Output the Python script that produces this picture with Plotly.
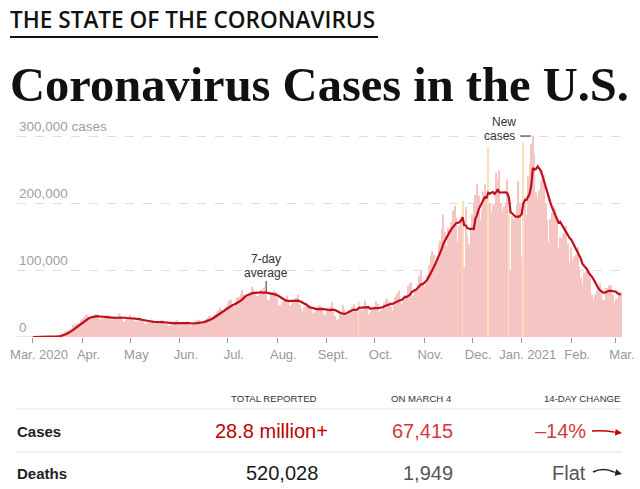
import pandas as pd
import plotly.graph_objects as go

# ---------------- data ----------------
start_date = "2020-03-01"
end_date = "2021-03-04"

# daily new cases (thousands), one row per week starting on Sunday
daily_cases_k = [
    0.02, 0.02, 0.03, 0.04, 0.06, 0.09, 0.11,        # Mar 1
    0.15, 0.2, 0.3, 0.45, 0.4, 0.6, 0.7,             # Mar 8
    0.9, 1.2, 1.8, 2.6, 4.7, 5.6, 7.0,               # Mar 15
    9.0, 10.2, 10.5, 12.2, 17.6, 18.4, 19.8,         # Mar 22
    20.0, 21.5, 24.9, 27.0, 30.0, 33.0, 33.3,        # Mar 29
    26.0, 29.0, 30.6, 32.0, 33.5, 33.5, 30.6,        # Apr 5
    26.5, 27.5, 28.0, 29.7, 31.0, 33.0, 28.6,        # Apr 12
    26.5, 26.0, 26.0, 30.0, 31.5, 35.0, 32.0,        # Apr 19
    25.5, 22.5, 24.5, 27.5, 31.0, 33.6, 28.5,        # Apr 26
    25.0, 23.0, 23.5, 25.5, 28.0, 26.5, 25.2,        # May 3
    19.5, 19.2, 22.0, 20.8, 26.0, 25.0, 24.0,        # May 10
    19.0, 20.5, 19.8, 22.0, 25.5, 23.5, 21.5,        # May 17
    19.5, 16.5, 18.5, 19.5, 22.5, 24.0, 25.0,        # May 24
    19.5, 20.0, 19.0, 20.5, 21.5, 23.0, 22.0,        # May 31
    18.0, 17.0, 18.5, 21.0, 23.0, 25.5, 25.0,        # Jun 7
    19.0, 19.5, 23.0, 25.5, 28.5, 31.5, 32.0,        # Jun 14
    27.0, 31.0, 34.5, 37.0, 40.0, 44.5, 41.5,        # Jun 21
    39.5, 42.0, 46.0, 50.5, 55.0, 55.5, 46.0,        # Jun 28
    44.0, 48.0, 59.0, 60.0, 64.0, 70.0, 63.5,        # Jul 5
    59.0, 60.5, 64.0, 67.0, 75.0, 71.5, 63.5,        # Jul 12
    61.0, 61.5, 63.5, 71.0, 70.5, 74.0, 65.0,        # Jul 19
    55.0, 55.0, 63.5, 67.5, 69.5, 67.0, 58.0,        # Jul 26
    47.0, 47.0, 52.5, 54.0, 57.5, 62.0, 55.0,        # Aug 2
    47.0, 49.0, 54.5, 52.5, 58.5, 63.0, 48.5,        # Aug 9
    42.0, 38.0, 44.0, 47.5, 44.0, 48.0, 44.5,        # Aug 16
    35.5, 36.5, 38.0, 45.0, 47.0, 47.5, 44.0,        # Aug 23
    34.0, 33.0, 38.5, 40.0, 44.5, 52.0, 43.0,        # Aug 30
    31.0, 25.0, 26.5, 34.5, 35.5, 47.5, 41.0,        # Sep 6
    35.0, 34.0, 40.0, 39.5, 45.0, 49.0, 42.5,        # Sep 13
    36.0, 53.0, 41.0, 40.0, 45.0, 54.0, 46.0,        # Sep 20
    33.5, 37.0, 41.5, 40.5, 46.5, 53.5, 49.5,        # Sep 27
    36.5, 40.0, 44.0, 51.0, 56.0, 57.0, 53.0,        # Oct 4
    45.0, 39.5, 52.0, 60.0, 65.0, 69.0, 55.5,        # Oct 11
    48.0, 59.0, 62.5, 60.0, 76.0, 80.0, 81.0,        # Oct 18
    62.0, 67.0, 71.5, 79.0, 91.0, 99.0, 82.0,        # Oct 25
    74.5, 85.0, 92.0, 108.0, 121.0, 128.0, 123.0,    # Nov 1
    110.0, 120.0, 137.0, 144.0, 161.0, 183.0, 157.0, # Nov 8
    136.0, 163.0, 157.0, 171.0, 189.0, 196.0, 178.0, # Nov 15
    142.0, 166.0, 177.0, 203.0, 105.0, 194.0, 150.0, # Nov 22
    138.0, 160.0, 183.0, 200.0, 212.0, 228.0, 211.0, # Nov 29
    175.0, 190.0, 217.0, 228.0, 205.0, 282.0, 200.0, # Dec 6
    186.0, 197.0, 198.0, 245.0, 235.0, 249.0, 200.0, # Dec 13
    188.0, 195.0, 199.0, 235.0, 190.0, 100.0, 180.0, # Dec 20
    175.0, 180.0, 198.0, 233.0, 200.0, 120.0, 290.0, # Dec 27
    209.0, 182.0, 240.0, 258.0, 288.0, 300.0, 272.0, # Jan 3
    216.0, 208.0, 219.0, 233.0, 235.0, 242.0, 200.0, # Jan 10
    175.0, 141.0, 176.0, 186.0, 195.0, 191.0, 174.0, # Jan 17
    133.0, 149.0, 148.0, 154.0, 166.0, 166.0, 140.0, # Jan 24
    111.0, 134.0, 115.0, 120.0, 123.0, 134.0, 104.0, # Jan 31
    89.0, 80.0, 96.0, 98.0, 104.0, 99.0, 88.0,       # Feb 7
    63.0, 55.0, 63.0, 69.0, 71.0, 80.0, 70.0,        # Feb 14
    56.0, 55.0, 73.0, 73.0, 77.0, 78.0, 63.0,        # Feb 21
    52.0, 57.0, 57.0, 66.0, 67.415,                  # Feb 28
]

# days drawn in the lighter (reporting anomaly) colour
anomaly_days = ["2020-09-21", "2020-11-25", "2020-12-11", "2020-12-24", "2021-01-02"]

month_ticks = ["2020-03-01", "2020-04-01", "2020-05-01", "2020-06-01", "2020-07-01",
               "2020-08-01", "2020-09-01", "2020-10-01", "2020-11-01", "2020-12-01",
               "2021-01-01", "2021-02-01", "2021-03-01"]
month_labels = ["Mar. 2020", "Apr.", "May", "Jun.", "Jul.", "Aug.", "Sept.", "Oct.",
                "Nov.", "Dec.", "Jan. 2021", "Feb.", "Mar."]

y_ticks = [0, 100000, 200000, 300000]
y_labels = ["0", "100,000", "200,000", "300,000 cases"]

table_columns = ["TOTAL REPORTED", "ON MARCH 4", "14-DAY CHANGE"]
table_rows = ["Cases", "Deaths"]
cases_values = ["28.8 million+", "67,415", "–14%"]
deaths_values = ["520,028", "1,949", "Flat"]

# ---------------- build ----------------
dates = pd.date_range(start_date, end_date, freq="D")
cases = pd.Series([v * 1000 for v in daily_cases_k], index=dates)
avg7 = cases.rolling(7, min_periods=1).mean()

PINK = "#f4c5c3"
YELLOW = "#f9e0bb"
flag = set(pd.to_datetime(anomaly_days))
bar_colors = [YELLOW if d in flag else PINK for d in dates]

W, H = 640, 489
L, R, T, B = 17, 18, 130, 152
PW, PH = W - L - R, H - T - B


def X(px):
    return (px - L) / PW


def Y(py):
    return (H - B - py) / PH


SANS = "Liberation Sans, Arial, sans-serif"
SERIF = "Liberation Serif, Times New Roman, serif"

fig = go.Figure()
fig.add_trace(go.Bar(x=dates, y=cases.values, marker=dict(color=bar_colors, line=dict(width=0)),
                     hoverinfo="skip"))
fig.add_trace(go.Scatter(x=dates, y=avg7.values, mode="lines",
                         line=dict(color="#be0f1c", width=2.2), hoverinfo="skip"))

annotations = []
shapes = []


def txt(text, px, py, size, color, anchor="left", family=SANS, weight="normal"):
    annotations.append(dict(text=text, x=X(px), y=Y(py), xref="paper", yref="paper",
                            xanchor=anchor, yanchor="middle", showarrow=False,
                            font=dict(family=family, size=size, color=color, weight=weight)))


# header
txt("THE STATE OF THE CORONAVIRUS", 8, 19.5, 22.6, "#111", family="Open Sans, " + SANS, weight=600)
shapes.append(dict(type="line", xref="paper", yref="paper", x0=X(10), x1=X(378),
                   y0=Y(37), y1=Y(37), line=dict(color="#111", width=2)))
txt("Coronavirus Cases in the U.S.", 8, 85, 48.5, "#111", family=SERIF, weight="bold")

# y-axis labels above the gridlines
for v, lab in zip(y_ticks, y_labels):
    annotations.append(dict(text=lab, x=0, y=v, xref="paper", yref="y", xanchor="left",
                            yanchor="middle", yshift=10, showarrow=False,
                            font=dict(family=SANS, size=13.5, color="#a0a0a0")))

# baseline
shapes.append(dict(type="line", xref="paper", yref="y", x0=0, x1=1, y0=0, y1=0,
                   line=dict(color="#cfcfcf", width=1), layer="below"))

# "7-day average" label
pin_day = pd.Timestamp("2020-07-25")
annotations.append(dict(text="7-day", x=pin_day, y=Y(258.5), xref="x", yref="paper",
                        xanchor="center", yanchor="middle", showarrow=False,
                        font=dict(family=SANS, size=12, color="#333")))
annotations.append(dict(text="average", x=pin_day, y=Y(273), xref="x", yref="paper",
                        xanchor="center", yanchor="middle", showarrow=False,
                        font=dict(family=SANS, size=12, color="#333")))
shapes.append(dict(type="line", xref="x", yref="paper", x0=pin_day, x1=pin_day,
                   y0=Y(281), y1=Y(292), line=dict(color="#333", width=1)))

# "New cases" label
txt("New", 518, 122, 12, "#333", anchor="right")
txt("cases", 517, 136, 12, "#333", anchor="right")
shapes.append(dict(type="line", xref="paper", yref="paper", x0=X(520), x1=X(531),
                   y0=Y(136), y1=Y(136), line=dict(color="#333", width=1)))

# table
col_right = [319, 454, 622]
for lab, xr in zip(table_columns, col_right):
    txt(lab, xr, 398, 9.6, "#333", anchor="right")
for yline in (409, 452):
    shapes.append(dict(type="line", xref="paper", yref="paper", x0=X(17), x1=X(622),
                       y0=Y(yline), y1=Y(yline), line=dict(color="#e3e3e3", width=1)))
txt(table_rows[0], 15, 431, 15, "#222", weight="bold")
txt(table_rows[1], 15, 473, 15, "#222", weight="bold")

txt(cases_values[0], 330, 431, 20, "#c10000", anchor="right")
txt(cases_values[1], 455, 431, 20, "#d2393b", anchor="right")
txt(cases_values[2], 588, 431, 20, "#d2393b", anchor="right")
txt(deaths_values[0], 320, 473, 20, "#1a1a1a", anchor="right")
txt(deaths_values[1], 455, 473, 20, "#555", anchor="right")
txt(deaths_values[2], 588, 473, 20, "#555", anchor="right")

# trend arrows
shapes.append(dict(type="path", xref="paper", yref="paper",
                   path=f"M {X(592)},{Y(431)} Q {X(603)},{Y(430)} {X(614)},{Y(432)}",
                   line=dict(color="#c10000", width=1.5)))
annotations.append(dict(text="", x=X(622), y=Y(433), xref="paper", yref="paper",
                        ax=-9, ay=-1, showarrow=True, arrowhead=2, arrowsize=0.9,
                        arrowwidth=1.5, arrowcolor="#c10000"))
shapes.append(dict(type="path", xref="paper", yref="paper",
                   path=f"M {X(593)},{Y(472)} Q {X(603)},{Y(467)} {X(614)},{Y(472)}",
                   line=dict(color="#222", width=1.5)))
annotations.append(dict(text="", x=X(622), y=Y(474), xref="paper", yref="paper",
                        ax=-9, ay=-2, showarrow=True, arrowhead=2, arrowsize=0.9,
                        arrowwidth=1.5, arrowcolor="#222"))

fig.update_layout(
    width=W, height=H,
    margin=dict(l=L, r=R, t=T, b=B, autoexpand=False),
    paper_bgcolor="white", plot_bgcolor="white",
    showlegend=False, bargap=0.28,
    annotations=annotations, shapes=shapes,
    xaxis=dict(type="date", range=["2020-02-20", "2021-03-04 19:00"],
               tickvals=month_ticks, ticktext=month_labels, automargin=False,
               ticks="outside", ticklen=5, tickcolor="#9a9a9a", tickwidth=1,
               ticklabelshift=6,
               tickfont=dict(family=SANS, size=13, color="#999"),
               showgrid=False, showline=False, zeroline=False),
    yaxis=dict(range=[0, 309000], tickvals=y_ticks[1:], showticklabels=False,
               automargin=False,
               showgrid=True, gridcolor="#dddddd", griddash="dash", gridwidth=1,
               zeroline=False, showline=False),
)

fig.write_html("out.html")
